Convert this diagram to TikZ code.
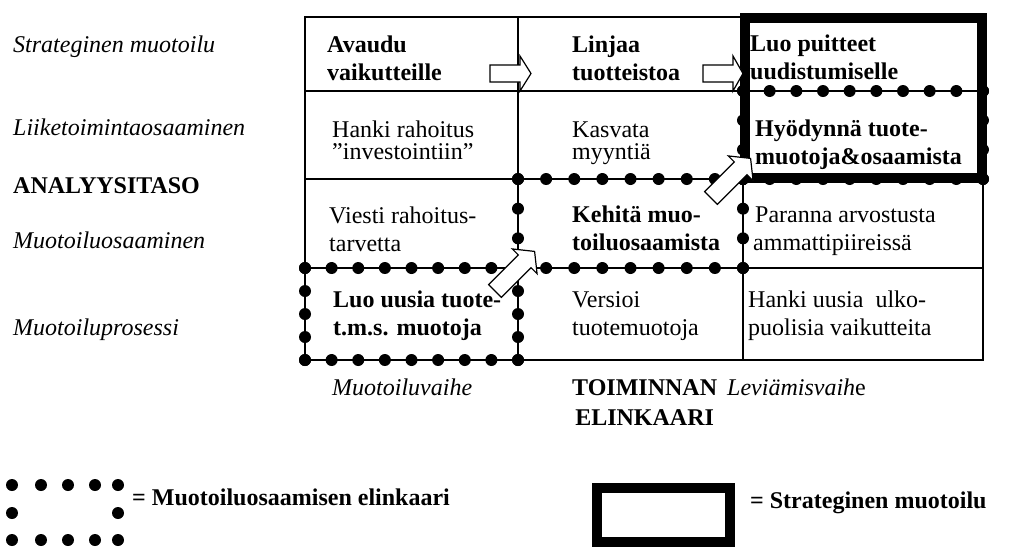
\documentclass[tikz,border=0pt]{standalone}
\usepackage{fontspec}
\setmainfont{Liberation Serif}
\usetikzlibrary{calc}
\newcommand\celltext[2]{\fontsize{24}{#1}\selectfont\begin{tabular}[t]{@{}l@{}}#2\end{tabular}}
\newcommand\ctrtext[2]{\fontsize{24}{#1}\selectfont\begin{tabular}[t]{@{}c@{}}#2\end{tabular}}
\newcommand\dotseg[3]{\foreach \k in {0,...,#3}{\fill ($#1!{\k/#3}!#2$) circle[radius=6pt];}}
\newcommand\blockarr[6]{%
  \begin{scope}[shift={(#1,#2)},rotate=#3]
    \draw[blockarrow] (0,-#6) -- ({#4-#5},-#6) -- ({#4-#5},-17.5) -- (#4,0) -- ({#4-#5},17.5) -- ({#4-#5},#6) -- (0,#6) -- cycle;
  \end{scope}}
\tikzset{
  gridline/.style={line width=1.3pt},
  thickbox/.style={line width=10pt},
  lbl/.style={inner sep=0pt, anchor=base west, font=\fontsize{24}{28}\selectfont},
  blockarrow/.style={draw, line width=1.2pt, fill=white, line join=miter},
}
\begin{document}
\begin{tikzpicture}[x=1pt,y=-1pt]
\useasboundingbox (0,0) rectangle (1013,547);
% grid
\draw[gridline] (305,17) rectangle (983,360);
\foreach \yy in {91,179,268} \draw[gridline] (305,\yy) -- (983,\yy);
\foreach \xx in {518,743} \draw[gridline] (\xx,17) -- (\xx,360);
% dotted cells
\dotseg{(305,268)}{(518,268)}{8}
\dotseg{(305,360)}{(518,360)}{8}
\dotseg{(305,268)}{(305,360)}{4}
\dotseg{(518,268)}{(518,360)}{4}
\dotseg{(518,179)}{(743,179)}{8}
\dotseg{(518,268)}{(743,268)}{8}
\dotseg{(518,179)}{(518,268)}{3}
\dotseg{(743,179)}{(743,268)}{3}
\dotseg{(743,91)}{(983,91)}{9}
\dotseg{(743,179)}{(983,179)}{9}
\dotseg{(743,91)}{(743,179)}{3}
\dotseg{(983,91)}{(983,179)}{3}
% thick box
\draw[thickbox] (745,18) rectangle (982,178);
% arrows
\blockarr{490}{73.5}{0}{41}{11}{8.5}
\blockarr{703}{73.5}{0}{40}{10}{8.5}
\blockarr{495}{291}{45}{56}{14}{9}
\blockarr{711}{198}{45}{56}{14}{9}
% left labels
\node[lbl] (l1) at (13,52) {\itshape Strateginen muotoilu};
\node[lbl] (l2) at (13,135) {\itshape Liiketoimintaosaaminen};
\node[lbl] (l3) at (13,193) {\bfseries ANALYYSITASO};
\node[lbl] (l4) at (13,248) {\itshape Muotoiluosaaminen};
\node[lbl] (l5) at (13,335) {\itshape Muotoiluprosessi};
% cells
\node[lbl] (c11) at (327,52) {\bfseries\celltext{28}{Avaudu\\vaikutteille}};
\node[lbl] (c12) at (572,52) {\bfseries\celltext{28}{Linjaa\\tuotteistoa}};
\node[lbl] (c13) at (750,51) {\bfseries\celltext{28}{Luo puitteet\\uudistumiselle}};
\node[lbl] (c21) at (332,137) {\celltext{22}{Hanki rahoitus\\”investointiin”}};
\node[lbl] (c22) at (572,137) {\celltext{22}{Kasvata\\myyntiä}};
\node[lbl] (c23) at (755,136) {\bfseries\celltext{28}{Hyödynnä tuote-\\muotoja\&osaamista}};
\node[lbl] (c31) at (329,223) {\celltext{28}{Viesti rahoitus-\\tarvetta}};
\node[lbl] (c32) at (572,222) {\bfseries\celltext{28}{Kehitä muo-\\toiluosaamista}};
\node[lbl] (c33) at (753,222) {\celltext{28}{\hspace{2pt}Paranna arvostusta\\ammattipiireissä}};
\node[lbl] (c41) at (333,307) {\bfseries\celltext{28}{Luo uusia tuote-\\t.m.s. muotoja}};
\node[lbl] (c42) at (572,307) {\celltext{28}{Versioi\\tuotemuotoja}};
\node[lbl] (c43) at (748,307) {\celltext{28}{Hanki uusia\hspace{12pt}ulko-\\puolisia vaikutteita}};
% bottom labels
\node[lbl] (b1) at (332,395) {\itshape Muotoiluvaihe};
\node[lbl] (b2) at (572,395) {\bfseries\ctrtext{30}{TOIMINNAN\\ELINKAARI}};
\node[lbl] (b3) at (727,395) {\itshape Leviämisvaih\upshape e};
% legend
\foreach \xx in {12,41,68,95,118} {\fill (\xx,485) circle[radius=6pt]; \fill (\xx,540) circle[radius=6pt];}
\fill (12,513) circle[radius=6pt];
\fill (118,513) circle[radius=6pt];
\node[lbl] (t1) at (132,505) {\bfseries = Muotoiluosaamisen elinkaari};
\draw[thickbox] (597,488) rectangle (730,542);
\node[lbl] (t2) at (750,508) {\bfseries = Strateginen muotoilu};
\end{tikzpicture}
\end{document}
